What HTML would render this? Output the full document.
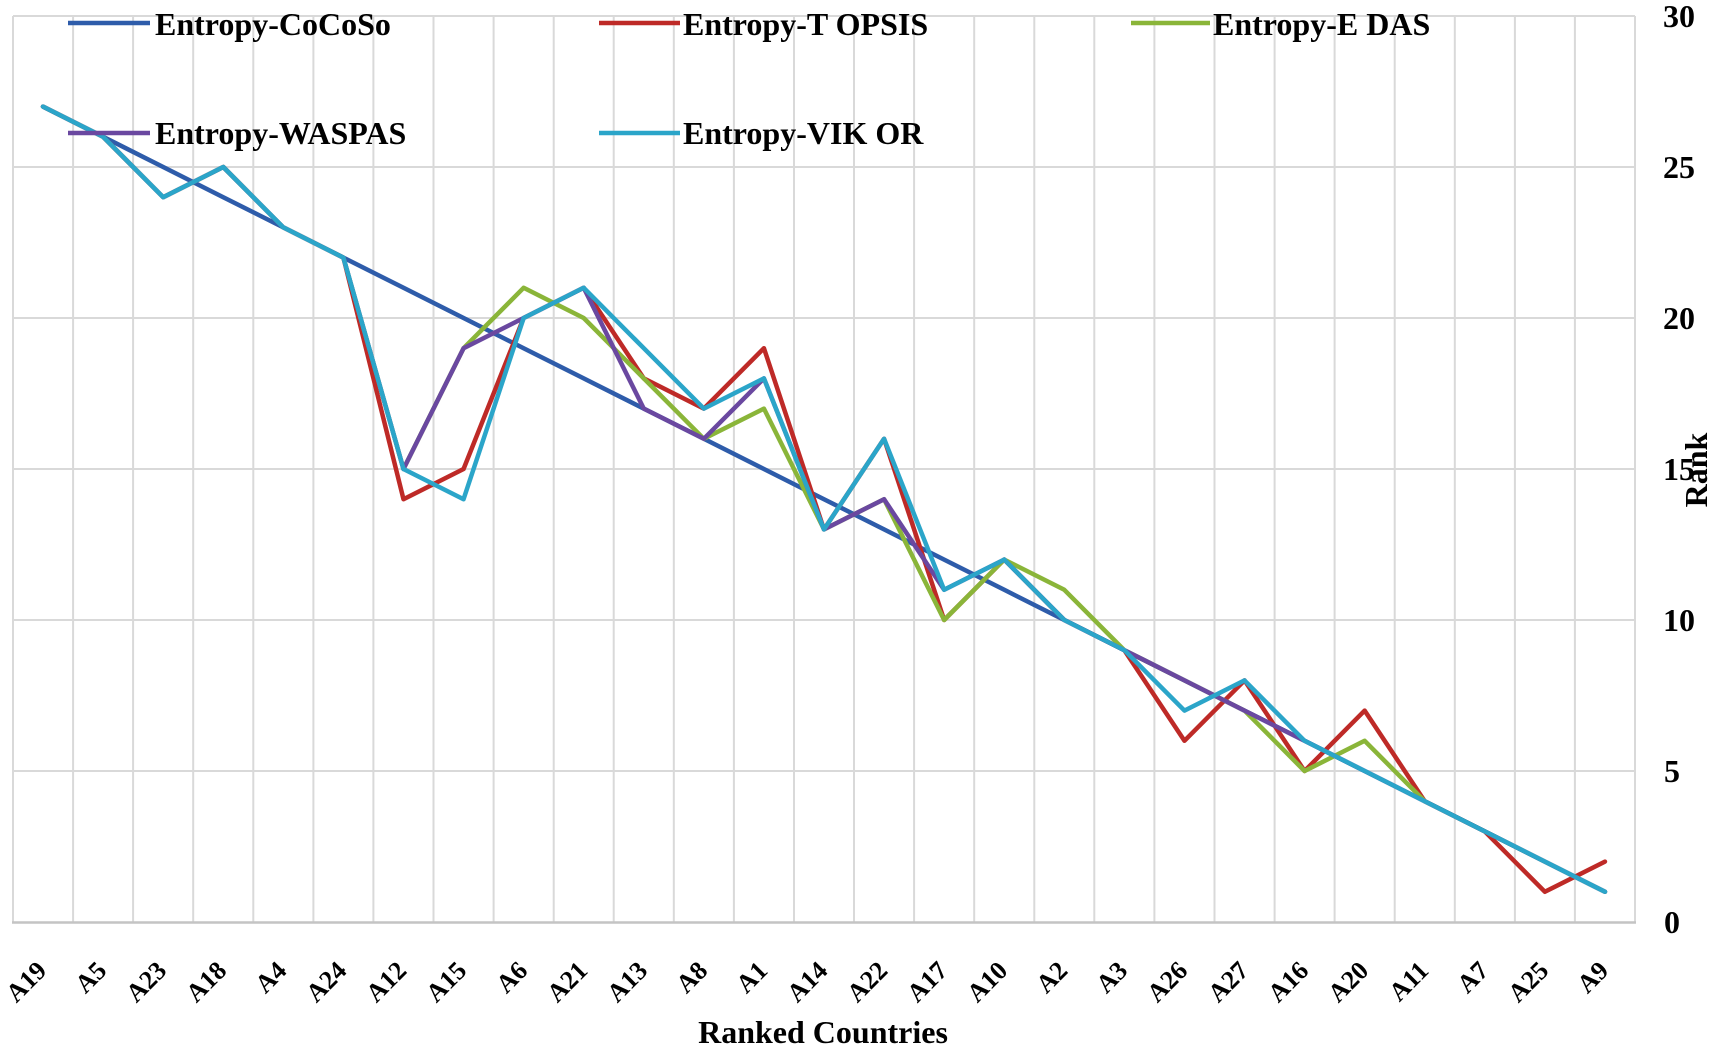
<!DOCTYPE html>
<html>
<head>
<meta charset="utf-8">
<style>
  html,body{margin:0;padding:0;background:#fff;}
  svg{display:block;}
  text{font-family:"Liberation Serif", serif; font-weight:bold; fill:#000;}
</style>
</head>
<body>
<svg width="1713" height="1052" viewBox="0 0 1713 1052" xmlns="http://www.w3.org/2000/svg">
  <rect x="0" y="0" width="1713" height="1052" fill="#fff"/>
  <!-- gridlines -->
  <g stroke="#d9d9d9" stroke-width="2" fill="none">
    <line x1="13" y1="16" x2="1635" y2="16"/>
    <line x1="13" y1="167" x2="1635" y2="167"/>
    <line x1="13" y1="318" x2="1635" y2="318"/>
    <line x1="13" y1="469" x2="1635" y2="469"/>
    <line x1="13" y1="620" x2="1635" y2="620"/>
    <line x1="13" y1="771" x2="1635" y2="771"/>
    <line x1="13.0" y1="16" x2="13.0" y2="922"/>
    <line x1="73.1" y1="16" x2="73.1" y2="922"/>
    <line x1="133.1" y1="16" x2="133.1" y2="922"/>
    <line x1="193.2" y1="16" x2="193.2" y2="922"/>
    <line x1="253.3" y1="16" x2="253.3" y2="922"/>
    <line x1="313.4" y1="16" x2="313.4" y2="922"/>
    <line x1="373.4" y1="16" x2="373.4" y2="922"/>
    <line x1="433.5" y1="16" x2="433.5" y2="922"/>
    <line x1="493.6" y1="16" x2="493.6" y2="922"/>
    <line x1="553.7" y1="16" x2="553.7" y2="922"/>
    <line x1="613.7" y1="16" x2="613.7" y2="922"/>
    <line x1="673.8" y1="16" x2="673.8" y2="922"/>
    <line x1="733.9" y1="16" x2="733.9" y2="922"/>
    <line x1="794.0" y1="16" x2="794.0" y2="922"/>
    <line x1="854.0" y1="16" x2="854.0" y2="922"/>
    <line x1="914.1" y1="16" x2="914.1" y2="922"/>
    <line x1="974.2" y1="16" x2="974.2" y2="922"/>
    <line x1="1034.3" y1="16" x2="1034.3" y2="922"/>
    <line x1="1094.3" y1="16" x2="1094.3" y2="922"/>
    <line x1="1154.4" y1="16" x2="1154.4" y2="922"/>
    <line x1="1214.5" y1="16" x2="1214.5" y2="922"/>
    <line x1="1274.6" y1="16" x2="1274.6" y2="922"/>
    <line x1="1334.6" y1="16" x2="1334.6" y2="922"/>
    <line x1="1394.7" y1="16" x2="1394.7" y2="922"/>
    <line x1="1454.8" y1="16" x2="1454.8" y2="922"/>
    <line x1="1514.9" y1="16" x2="1514.9" y2="922"/>
    <line x1="1574.9" y1="16" x2="1574.9" y2="922"/>
    <line x1="1635.0" y1="16" x2="1635.0" y2="922"/>
  </g>
  <line x1="12" y1="922.5" x2="1636" y2="922.5" stroke="#c4c4c4" stroke-width="2.5"/>

  <!-- series -->
  <g transform="translate(13,922) scale(60.074,-30.2)" fill="none" stroke-width="4.5" stroke-linejoin="round" stroke-linecap="round">
    <polyline vector-effect="non-scaling-stroke" stroke="#2E5CAA"
      points="0.5,27 1.5,26 2.5,25 3.5,24 4.5,23 5.5,22 6.5,21 7.5,20 8.5,19 9.5,18 10.5,17 11.5,16 12.5,15 13.5,14 14.5,13 15.5,12 16.5,11 17.5,10 18.5,9 19.5,8 20.5,7 21.5,6 22.5,5 23.5,4 24.5,3 25.5,2 26.5,1"/>
    <polyline vector-effect="non-scaling-stroke" stroke="#BE2A27"
      points="0.5,27 1.5,26 2.5,24 3.5,25 4.5,23 5.5,22 6.5,14 7.5,15 8.5,20 9.5,21 10.5,18 11.5,17 12.5,19 13.5,13 14.5,16 15.5,10 16.5,12 17.5,10 18.5,9 19.5,6 20.5,8 21.5,5 22.5,7 23.5,4 24.5,3 25.5,1 26.5,2"/>
    <polyline vector-effect="non-scaling-stroke" stroke="#8AB539"
      points="0.5,27 1.5,26 2.5,24 3.5,25 4.5,23 5.5,22 6.5,15 7.5,19 8.5,21 9.5,20 10.5,18 11.5,16 12.5,17 13.5,13 14.5,14 15.5,10 16.5,12 17.5,11 18.5,9 19.5,8 20.5,7 21.5,5 22.5,6 23.5,4 24.5,3 25.5,2 26.5,1"/>
    <polyline vector-effect="non-scaling-stroke" stroke="#6A48A0"
      points="0.5,27 1.5,26 2.5,24 3.5,25 4.5,23 5.5,22 6.5,15 7.5,19 8.5,20 9.5,21 10.5,17 11.5,16 12.5,18 13.5,13 14.5,14 15.5,11 16.5,12 17.5,10 18.5,9 19.5,8 20.5,7 21.5,6 22.5,5 23.5,4 24.5,3 25.5,2 26.5,1"/>
    <polyline vector-effect="non-scaling-stroke" stroke="#2BA5C9"
      points="0.5,27 1.5,26 2.5,24 3.5,25 4.5,23 5.5,22 6.5,15 7.5,14 8.5,20 9.5,21 10.5,19 11.5,17 12.5,18 13.5,13 14.5,16 15.5,11 16.5,12 17.5,10 18.5,9 19.5,7 20.5,8 21.5,6 22.5,5 23.5,4 24.5,3 25.5,2 26.5,1"/>
  </g>

  <!-- legend -->
  <g stroke-width="4.5">
    <line x1="68" y1="23" x2="150" y2="23" stroke="#2E5CAA"/>
    <line x1="599" y1="23" x2="680" y2="23" stroke="#BE2A27"/>
    <line x1="1131" y1="23" x2="1210" y2="23" stroke="#8AB539"/>
    <line x1="68" y1="133" x2="150" y2="133" stroke="#6A48A0"/>
    <line x1="599" y1="133" x2="680" y2="133" stroke="#2BA5C9"/>
  </g>
  <g font-size="32">
    <text x="155" y="35">Entropy-CoCoSo</text>
    <text x="683" y="35">Entropy-T OPSIS</text>
    <text x="1213" y="35">Entropy-E DAS</text>
    <text x="155" y="144">Entropy-WASPAS</text>
    <text x="683" y="144">Entropy-VIK OR</text>
  </g>

  <!-- y tick labels (right) -->
  <g font-size="32">
    <text x="1663" y="27">30</text>
    <text x="1663" y="178">25</text>
    <text x="1663" y="329">20</text>
    <text x="1663" y="480">15</text>
    <text x="1663" y="631">10</text>
    <text x="1664" y="782">5</text>
    <text x="1664" y="933">0</text>
  </g>
  <text font-size="32" text-anchor="middle" transform="translate(1707,470) rotate(-90)">Rank</text>

  <!-- x tick labels -->
  <g font-size="26" text-anchor="end">
    <text transform="translate(48,972) rotate(-45)">A19</text>
    <text transform="translate(108,972) rotate(-45)">A5</text>
    <text transform="translate(168,972) rotate(-45)">A23</text>
    <text transform="translate(228,972) rotate(-45)">A18</text>
    <text transform="translate(288,972) rotate(-45)">A4</text>
    <text transform="translate(348,972) rotate(-45)">A24</text>
    <text transform="translate(408,972) rotate(-45)">A12</text>
    <text transform="translate(468,972) rotate(-45)">A15</text>
    <text transform="translate(529,972) rotate(-45)">A6</text>
    <text transform="translate(589,972) rotate(-45)">A21</text>
    <text transform="translate(649,972) rotate(-45)">A13</text>
    <text transform="translate(709,972) rotate(-45)">A8</text>
    <text transform="translate(769,972) rotate(-45)">A1</text>
    <text transform="translate(829,972) rotate(-45)">A14</text>
    <text transform="translate(889,972) rotate(-45)">A22</text>
    <text transform="translate(949,972) rotate(-45)">A17</text>
    <text transform="translate(1009,972) rotate(-45)">A10</text>
    <text transform="translate(1069,972) rotate(-45)">A2</text>
    <text transform="translate(1129,972) rotate(-45)">A3</text>
    <text transform="translate(1189,972) rotate(-45)">A26</text>
    <text transform="translate(1250,972) rotate(-45)">A27</text>
    <text transform="translate(1310,972) rotate(-45)">A16</text>
    <text transform="translate(1370,972) rotate(-45)">A20</text>
    <text transform="translate(1430,972) rotate(-45)">A11</text>
    <text transform="translate(1490,972) rotate(-45)">A7</text>
    <text transform="translate(1550,972) rotate(-45)">A25</text>
    <text transform="translate(1610,972) rotate(-45)">A9</text>
  </g>

  <text x="823" y="1043" font-size="32" text-anchor="middle">Ranked Countries</text>
</svg>
</body>
</html>
